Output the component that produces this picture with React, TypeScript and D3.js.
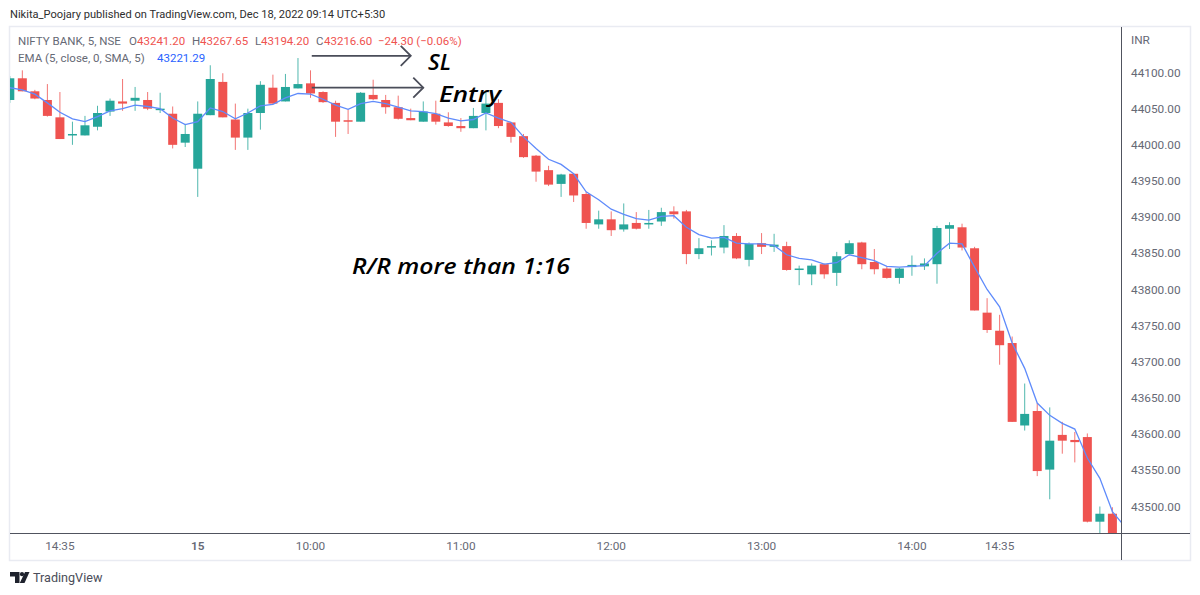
import React from "react";
import * as d3 from "d3";

const opens = [44062,44092,44074,44062,44038,44014,44013,44025,44046,44060,44061,44062,44048,44043,44003,43967,44041,44087,44035,44010,44044,44079,44060,44078,44085,44073,44058,44034,44032,44069,44062,44052,44037,44032,44043,44031,44026,44023,44044,44058,44031,44012,43985,43965,43946,43960,43932,43890,43897,43883,43892,43890,43894,43908,43908,43849,43858,43858,43874,43841,43864,43859,43860,43827,43821,43835,43823,43849,43865,43838,43829,43816,43831,43832,43835,43884,43886,43857,43768,43743,43726,43612,43632,43551,43599,43592,43596,43479,43490];
const highs = [44095,44103,44076,44084,44073,44032,44040,44054,44064,44091,44080,44073,44072,44053,44029,44060,44110,44099,44057,44050,44088,44097,44098,44120,44103,44074,44061,44049,44073,44090,44069,44068,44050,44060,44061,44045,44037,44051,44073,44063,44031,44015,43986,43971,43960,43961,43935,43909,43908,43919,43907,43910,43913,43915,43910,43871,43868,43889,43878,43865,43878,43877,43866,43833,43836,43836,43852,43868,43866,43856,43832,43830,43847,43843,43888,43893,43891,43859,43788,43765,43735,43670,43643,43637,43617,43603,43601,43500,43499];
const lows = [44058,44074,44063,44039,44008,44000,44013,44020,44040,44047,44047,44048,44044,43995,43997,43928,44041,44038,43993,43993,44021,44057,44060,44078,44065,44058,44011,44015,44032,44062,44043,44035,44034,44032,44028,44025,44018,44023,44020,44023,44003,43982,43949,43943,43928,43921,43884,43884,43874,43880,43883,43884,43888,43898,43835,43842,43847,43850,43842,43832,43849,43852,43826,43806,43806,43815,43805,43849,43828,43821,43815,43808,43819,43827,43808,43856,43854,43771,43740,43696,43617,43605,43542,43510,43573,43561,43478,43450,43440];
const closes = [44092,44074,44064,44040,44008,44015,44027,44044,44061,44057,44065,44050,44050,44000,44015,44043,44091,44038,44010,44044,44083,44057,44080,44084,44071,44059,44032,44032,44072,44063,44052,44036,44034,44046,44032,44026,44023,44040,44057,44026,44011,43983,43963,43945,43959,43930,43892,43897,43882,43890,43884,43892,43907,43904,43849,43857,43860,43874,43843,43863,43859,43862,43827,43829,43833,43821,43846,43864,43835,43828,43816,43829,43834,43836,43885,43889,43858,43771,43744,43723,43617,43628,43549,43591,43591,43589,43479,43490,43455];
const emaValues = [44079,44076,44070,44058,44045,44036,44032,44039,44047,44050,44055,44053,44050,44037,44028,44032,44051,44046,44036,44044,44054,44056,44065,44071,44070,44063,44055,44049,44057,44060,44057,44052,44047,44046,44043,44037,44033,44035,44044,44037,44031,44011,43995,43980,43973,43960,43935,43924,43911,43904,43898,43896,43901,43902,43886,43876,43871,43872,43864,43863,43863,43861,43848,43843,43841,43835,43837,43848,43844,43840,43832,43831,43832,43833,43850,43864,43863,43831,43800,43776,43726,43691,43643,43626,43615,43607,43567,43539,43493,43472];
const priceTicks = [44100,44050,44000,43950,43900,43850,43800,43750,43700,43650,43600,43550,43500];
const timeLabels: [number, string, boolean][] = [[4,"14:35",false],[15,"15",true],[24,"10:00",false],[36,"11:00",false],[48,"12:00",false],[60,"13:00",false],[72,"14:00",false],[79,"14:35",false]];
const arrowNotes: [number, number, number][] = [[24.1,32,44123],[24.1,33,44079]];

const GREEN = "#26a69a";
const RED = "#ef5350";
const FONT = "Roboto, sans-serif";
const GREY = "#666975";

export default function App() {
  const x = d3.scaleLinear().domain([0, 88]).range([9.8, 1112.4]);
  const y = d3.scaleLinear().domain([44100, 43500]).range([72.5, 506.5]);
  const line = d3.line<number>().x((_, i) => x(i)).y((d) => y(d));
  const bodyW = 9;
  return (
    <svg width={1200} height={595} style={{ position: "absolute", left: 0, top: 0, display: "block", background: "#fff" }} fontFamily={FONT}>
      <defs>
        <clipPath id="pane"><rect x={10} y={27} width={1111} height={506} /></clipPath>
      </defs>
      <text x={10} y={18} fontSize={11.1} fill="#2e2e2e">Nikita_Poojary published on TradingView.com, Dec 18, 2022 09:14 UTC+5:30</text>
      <rect x={9.5} y={26.5} width={1181} height={534} fill="none" stroke="#e9ebf2" strokeWidth={1.5} />

      <g clipPath="url(#pane)">
        {opens.map((o, i) => {
          const c = closes[i];
          const col = c >= o ? GREEN : RED;
          const top = y(Math.max(o, c));
          const bot = y(Math.min(o, c));
          return (
            <g key={i}>
              <line x1={x(i)} x2={x(i)} y1={y(highs[i])} y2={y(lows[i])} stroke={col} strokeWidth={1} strokeOpacity={0.8} />
              <rect x={x(i) - bodyW / 2} y={top} width={bodyW} height={Math.max(bot - top, 1.5)} fill={col} />
            </g>
          );
        })}
        <path d={line(emaValues) ?? ""} fill="none" stroke="#5f8bfb" strokeWidth={1.3} />
      </g>

      {arrowNotes.map(([a, b, p], i) => (
        <g key={i} fill="none" stroke="#4a4d59" strokeWidth={1.8}>
          <line x1={x(a)} x2={x(b)} y1={y(p)} y2={y(p)} />
          <path d={`M${x(b) - 10},${y(p) - 10}L${x(b)},${y(p)}L${x(b) - 10},${y(p) + 10}`} />
        </g>
      ))}
      <g fontFamily="'Open Sans', sans-serif" fontStyle="italic" fontWeight={600} fill="#000" fontSize={21.5} lengthAdjust="spacingAndGlyphs">
        <text x={428} y={70} textLength={23} lengthAdjust="spacingAndGlyphs">SL</text>
        <text x={439} y={102} textLength={62} lengthAdjust="spacingAndGlyphs">Entry</text>
        <text x={352} y={274} textLength={218} lengthAdjust="spacingAndGlyphs">R/R more than 1:16</text>
      </g>

      <g fontSize={11.5}>
        <text x={18} y={45} fill={GREY}>NIFTY BANK, 5, NSE</text>
        <text x={129} y={45} fill={GREY}>O</text>
        <text x={137} y={45} fill={RED}>43241.20</text>
        <text x={192} y={45} fill={GREY}>H</text>
        <text x={200} y={45} fill={RED}>43267.65</text>
        <text x={255} y={45} fill={GREY}>L</text>
        <text x={261} y={45} fill={RED}>43194.20</text>
        <text x={316} y={45} fill={GREY}>C</text>
        <text x={324} y={45} fill={RED}>43216.60</text>
        <text x={378} y={45} fill={RED}>−24.30 (−0.06%)</text>
        <text x={18} y={62} fill={GREY}>EMA (5, close, 0, SMA, 5)</text>
        <text x={157} y={62} fill="#2962ff">43221.29</text>
      </g>

      <line x1={10} x2={1190} y1={533.5} y2={533.5} stroke="#50535e" strokeWidth={1} />
      <line x1={1121.5} x2={1121.5} y1={27} y2={560} stroke="#50535e" strokeWidth={1} />

      <g fontSize={11.8} fill={GREY}>
        <text x={1131} y={44}>INR</text>
        {priceTicks.map((t) => (
          <text key={t} x={1131} y={y(t) + 4}>{t.toFixed(2)}</text>
        ))}
        {timeLabels.map(([i, s, b], k) => (
          <text key={k} x={x(i)} y={550} textAnchor="middle" fontWeight={b ? 600 : 400}>{s}</text>
        ))}
      </g>

      <g fill="#1e222d">
        <path d="M10,572H19.5V583H15V576.5H10Z" />
        <circle cx={22} cy={574.2} r={2.1} />
        <path d="M25,572H29.5L24.5,583H19.8Z" />
      </g>
      <text x={33} y={582} fontSize={12.6} fill="#4a4d59">TradingView</text>
    </svg>
  );
}
